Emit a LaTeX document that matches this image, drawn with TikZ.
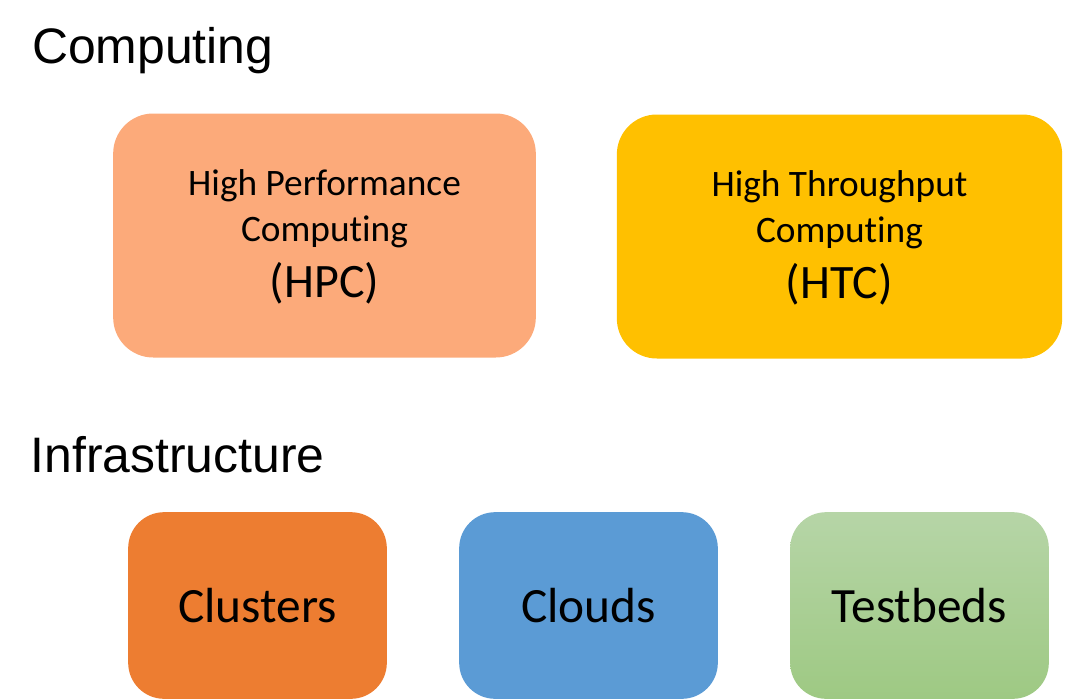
\documentclass[tikz,border=0pt]{standalone}
\usepackage{fontspec}
\setmainfont{Carlito}[Ligatures={NoCommon,NoContextual,NoRare}, Contextuals=NoAlternate]
\newfontfamily\headfont{Liberation Sans}
\usepackage{xcolor}
\definecolor{hpcorange}{RGB}{252,170,122}
\definecolor{htcyellow}{RGB}{255,192,0}
\definecolor{clusterorange}{RGB}{237,125,49}
\definecolor{cloudblue}{RGB}{91,155,213}
\definecolor{testtop}{RGB}{182,213,167}
\definecolor{testbottom}{RGB}{158,201,131}

\tikzset{
    heading/.style={anchor=base west, inner sep=0pt, font=\headfont\fontsize{37.4}{44}\selectfont},
    bigcard/.style={rounded corners=30pt, inner sep=0pt, align=center, text depth=3pt,
        minimum height=183pt, font=\fontsize{28}{34}\selectfont},
    smallcard/.style={rounded corners=27pt, inner sep=0pt, align=center,
        minimum width=194pt, minimum height=140pt, font=\fontsize{37}{44}\selectfont},
}

\begin{document}
\begin{tikzpicture}[x=0.75pt, y=-0.75pt]
    \useasboundingbox (0,0) rectangle (1065,700);

    % Section titles
    \node[heading] (computing) at (32,63) {Computing};
    \node[heading] (infra) at (30.5,472) {Infrastructure};

    % Computing boxes
    \node[bigcard, fill=hpcorange, minimum width=317pt] (HPC) at (324.5,235.5)
        {High Performance\\Computing\\[8pt]{\fontsize{36}{42}\selectfont (HPC)}};
    \node[bigcard, fill=htcyellow, minimum width=334pt] (HTC) at (839.5,236.5)
        {High Throughput\\Computing\\[8pt]{\fontsize{36}{42}\selectfont (HTC)}};

    % Infrastructure boxes
    \node[smallcard, fill=clusterorange] (clusters) at (257.5,605.5) {Clusters};
    \node[smallcard, fill=cloudblue] (clouds) at (588.5,605.5) {Clouds};
    \node[smallcard, top color=testtop, bottom color=testbottom] (testbeds) at (919.5,605.5) {Testbeds};
\end{tikzpicture}
\end{document}
